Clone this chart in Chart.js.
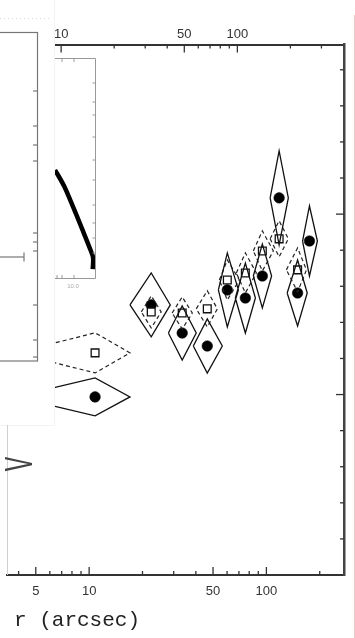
<!DOCTYPE html>
<html>
<head>
<meta charset="utf-8">
<script src="https://cdn.jsdelivr.net/npm/chart.js@4.4.1/dist/chart.umd.min.js"></script>
<style>
  html, body { margin: 0; padding: 0; background: #fff; }
  #wrap { width: 355px; height: 638px; position: relative; }
</style>
</head>
<body>
<div id="wrap"><canvas id="c" width="355" height="638"></canvas></div>
<script>
// Annulus radii (arcsec) and their radial extent
const radius     = [10.8, 22.4, 33.5, 46.4, 60.2, 76.1, 94.9, 118, 150, 175];
const radiusLow  = [3.82, 17.0, 28.0, 38.7, 53.6, 66.8, 84.4, 105, 131, 160];
const radiusHigh = [17.0, 28.7, 40.2, 56.4, 69.5, 86.7, 107, 133, 170, 194];

// Filled circles with solid error diamonds
const filledValue = [98.7, 149.7, 134.1, 126.9, 158.0, 153.5, 165.7, 209.0, 156.3, 185.1];
const filledError = [10.5, 17.7, 15.0, 15.0, 20.5, 19.4, 17.7, 26.0, 18.3, 19.4];

// Open squares with dashed error diamonds
const openValue = [123.1, 145.8, 145.2, 147.5, 163.5, 167.4, 179.6, 186.3, 169.1, null];
const openError = [11.1, 8.9, 8.9, 10.0, 11.1, 11.1, 11.1, 10.0, 12.2, null];
const openLow   = [3.82, 19.7, 29.4, 40.2, 54.3, 67.7, 84.4, 105, 129.7, null];
const openHigh  = [17.0, 25.5, 38.2, 52.9, 70.4, 87.8, 109.5, 133, 168.3, null];

// Axis ticks
const bottomTicks  = [4, 5, 6, 7, 8, 9, 10, 20, 30, 40, 50, 60, 70, 80, 90, 100, 200];
const bottomLabels = [5, 10, 50, 100];
const topTicks     = [6, 7, 8, 9, 10, 20, 30, 40, 50, 60, 70, 80, 90, 100, 200, 300];
const topLabels    = [10, 50, 100];
const rightTicks   = [20, 40, 60, 80, 100, 120, 140, 160, 180, 200, 220, 240, 260, 280];
const rightMajor   = [100, 200];

// Small inset profile
const insetX = [0, 0.225, 0.45, 0.675, 0.875, 0.95, 0.94];
const insetY = [0.491, 0.418, 0.323, 0.223, 0.132, 0.091, 0.04];

function diamonds(xs, lo, hi, ys, es) {
  const pts = [];
  xs.forEach((x, i) => {
    if (ys[i] == null) return;
    pts.push(
      { x: lo[i], y: ys[i] },
      { x: x, y: ys[i] + es[i] },
      { x: hi[i], y: ys[i] },
      { x: x, y: ys[i] - es[i] },
      { x: lo[i], y: ys[i] },
      { x: x, y: null }
    );
  });
  return pts;
}

const frame = {
  id: 'frame',
  afterDraw(chart) {
    const { ctx, chartArea: a, scales } = chart;
    const line = (x1, y1, x2, y2) => { ctx.beginPath(); ctx.moveTo(x1, y1); ctx.lineTo(x2, y2); ctx.stroke(); };
    ctx.save();

    // inward tick marks
    ctx.strokeStyle = '#333';
    ctx.lineWidth = 1.3;
    bottomTicks.forEach(v => {
      const px = scales.x.getPixelForValue(v);
      line(px, a.bottom, px, a.bottom - (bottomLabels.includes(v) ? 8 : 4));
    });
    topTicks.forEach(v => {
      const px = scales.xTop.getPixelForValue(v);
      line(px, a.top, px, a.top + (topLabels.includes(v) ? 8 : 4));
    });
    rightTicks.forEach(v => {
      const py = scales.y.getPixelForValue(v);
      line(a.right, py, a.right - (rightMajor.includes(v) ? 8 : 4), py);
    });

    // side panel
    ctx.fillStyle = '#fff';
    ctx.fillRect(0, 0, 55, 425);
    ctx.strokeStyle = '#f3f3f3';
    ctx.lineWidth = 1;
    line(54.5, 0, 54.5, 425);
    line(0, 425.5, 54.5, 425.5);

    ctx.strokeStyle = '#d8d8d8';
    ctx.setLineDash([1, 3]);
    line(0, 18.5, 52, 18.5);
    ctx.setLineDash([]);

    ctx.strokeStyle = '#777';
    ctx.lineWidth = 1.2;
    ctx.strokeRect(-2, 32.5, 39.5, 328.5);
    [91, 126, 145, 161, 233, 242, 251, 305, 340, 357].forEach(y => line(37.5, y, 33, y));
    line(0, 257, 24, 257);
    line(24, 252.5, 24, 261.5);

    // inset frame
    ctx.strokeStyle = '#999';
    ctx.lineWidth = 1;
    line(55, 58.5, 95.5, 58.5);
    line(95.5, 58.5, 95.5, 278.5);
    line(55, 278.5, 95.5, 278.5);
    [62, 74].forEach(x => line(x, 58.5, x, 62));
    [57, 62, 74].forEach(x => line(x, 278.5, x, 275));
    [83, 102, 115, 137, 160, 180, 205, 223, 238, 253].forEach(y => line(95.5, y, 92.5, y));
    ctx.fillStyle = '#aaa';
    ctx.font = '6px "Liberation Sans"';
    ctx.textAlign = 'center';
    ctx.textBaseline = 'middle';
    ctx.fillText('10.0', 73, 286);

    // faint edges
    ctx.strokeStyle = '#cfcfcf';
    line(7.5, 425, 7.5, 575);
    ctx.strokeStyle = '#f2c9c9';
    line(354.5, 15, 354.5, 638);

    // rotated axis letter
    ctx.save();
    ctx.translate(21, 464);
    ctx.rotate(-Math.PI / 2);
    ctx.scale(0.6, 1);
    ctx.fillStyle = '#444';
    ctx.font = '40px "Liberation Mono"';
    ctx.textAlign = 'center';
    ctx.textBaseline = 'middle';
    ctx.fillText('V', 0, 0);
    ctx.restore();

    // axis title
    ctx.fillStyle = '#222';
    ctx.font = '21px "Liberation Mono"';
    ctx.textAlign = 'left';
    ctx.textBaseline = 'alphabetic';
    ctx.fillText('r (arcsec)', 14, 626);

    ctx.restore();
  }
};

const tickFont = { family: '"Liberation Sans"', size: 13 };

new Chart(document.getElementById('c'), {
  type: 'line',
  data: {
    datasets: [
      {
        data: insetX.map((x, i) => ({ x, y: insetY[i] })),
        xAxisID: 'xi', yAxisID: 'yi',
        borderColor: '#000', borderWidth: 4.5, pointRadius: 0, tension: 0.3, fill: false
      },
      {
        data: diamonds(radius, radiusLow, radiusHigh, filledValue, filledError),
        borderColor: '#111', borderWidth: 1.3, pointRadius: 0, tension: 0, spanGaps: false, fill: false
      },
      {
        data: diamonds(radius, openLow, openHigh, openValue, openError),
        borderColor: '#222', borderWidth: 1.2, borderDash: [4, 3], pointRadius: 0, tension: 0, spanGaps: false, fill: false
      },
      {
        data: radius.map((r, i) => ({ x: r, y: openValue[i] })).filter(p => p.y != null),
        showLine: false, pointStyle: 'rect', pointRadius: 5.5,
        pointBackgroundColor: '#fff', pointBorderColor: '#111', pointBorderWidth: 1.3
      },
      {
        data: radius.map((r, i) => ({ x: r, y: filledValue[i] })),
        showLine: false, pointStyle: 'circle', pointRadius: 5.3,
        pointBackgroundColor: '#000', pointBorderColor: '#000', pointBorderWidth: 0.5
      }
    ]
  },
  options: {
    responsive: false,
    animation: false,
    devicePixelRatio: 1,
    layout: { padding: { left: 7, right: 0, top: 0, bottom: 0 } },
    plugins: { legend: { display: false }, tooltip: { enabled: false } },
    scales: {
      x: {
        type: 'logarithmic', position: 'bottom', min: 3.44, max: 274.1,
        afterBuildTicks: s => { s.ticks = bottomTicks.map(v => ({ value: v })); },
        afterFit: s => { s.height = 63; },
        grid: { display: false, drawTicks: false },
        border: { display: true, color: '#333', width: 2 },
        ticks: {
          autoSkip: false, maxRotation: 0, padding: 9, color: '#333', font: tickFont,
          callback: v => bottomLabels.includes(v) ? String(v) : ''
        }
      },
      xTop: {
        type: 'logarithmic', axis: 'x', position: 'top', min: 4.93, max: 402.9,
        afterBuildTicks: s => { s.ticks = topTicks.map(v => ({ value: v })); },
        afterFit: s => { s.height = 44.5; },
        grid: { display: false, drawTicks: false },
        border: { display: true, color: '#333', width: 2 },
        ticks: {
          autoSkip: false, maxRotation: 0, padding: 2, color: '#333', font: tickFont,
          callback: v => topLabels.includes(v) ? String(v) : ''
        }
      },
      y: {
        type: 'linear', position: 'right', min: 0, max: 294,
        afterFit: s => { s.width = 11; },
        grid: { display: false, drawTicks: false },
        border: { display: true, color: '#444', width: 2.5 },
        ticks: { display: false }
      },
      xi: { type: 'linear', axis: 'x', display: false, min: -1.2, max: 7.2125 },
      yi: { type: 'linear', axis: 'y', display: false, min: -1.35, max: 1.0614 }
    }
  },
  plugins: [frame]
});
</script>
</body>
</html>
